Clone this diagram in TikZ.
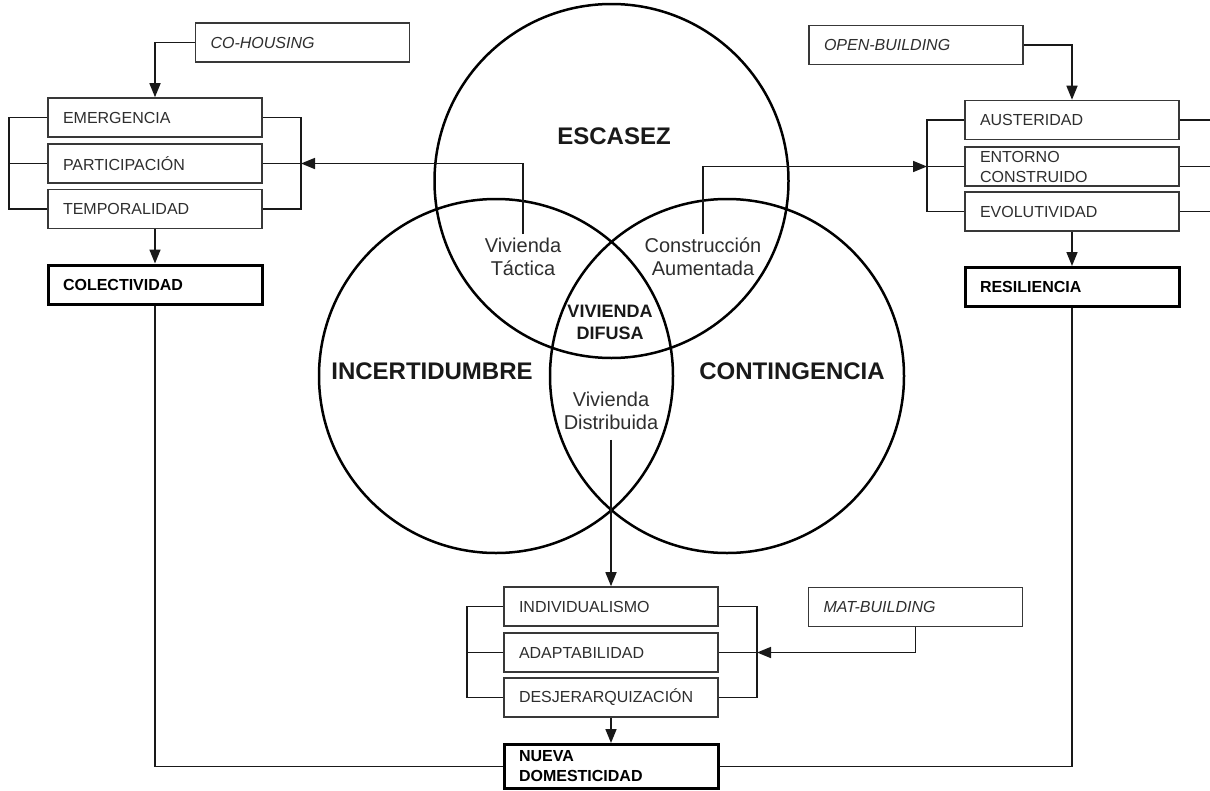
\documentclass[tikz,border=0pt]{standalone}
\usepackage{fontspec}
\setmainfont{Liberation Sans}
\usetikzlibrary{arrows.meta}
\definecolor{txtgray}{HTML}{2E2E2E}
\definecolor{boxgray}{HTML}{383838}
\begin{document}
\begin{tikzpicture}[x=1pt,y=-1pt,
  box/.style={draw=boxgray, line width=1.6pt, minimum height=39pt, text width=184pt,
    inner xsep=15pt, inner ysep=2pt, align=left, font=\fontsize{16}{20}\selectfont,
    text=txtgray, fill=white},
  thickbox/.style={box, draw=black, line width=3pt, font=\bfseries\fontsize{16}{20}\selectfont, text=black},
  itbox/.style={box, font=\itshape\fontsize{16}{20}\selectfont},
  conn/.style={line width=1.6pt, draw=black!90},
  arr/.style={conn, -{Triangle[length=14pt,width=11pt]}},
  venn/.style={circle, draw=black, line width=2.5pt, minimum size=354pt, inner sep=0pt},
  big/.style={font=\bfseries\fontsize{24}{28}\selectfont, text=black!90},
  small/.style={font=\fontsize{20}{23}\selectfont, align=center, text=txtgray},
  mid/.style={font=\bfseries\fontsize{18}{22}\selectfont, align=center, text=black!90}
]
\useasboundingbox (0,0) rectangle (1210,790);
\fill[white] (0,0) rectangle (1210,790);

% Venn circles
\node[venn] (cTop) at (611.5,181) {};
\node[venn] (cLeft) at (496,376) {};
\node[venn] (cRight) at (727,376) {};

% circle labels
\node[big] (escasez) at (614,136) {ESCASEZ};
\node[big] (incert) at (432,371) {INCERTIDUMBRE};
\node[big] (conting) at (792,371) {CONTINGENCIA};
\node[small] (tactica) at (523,256.5) {Vivienda\\Táctica};
\node[small] (construccion) at (703,256.5) {Construcción\\Aumentada};
\node[mid] (difusa) at (610,322) {VIVIENDA\\DIFUSA};
\node[small] (distribuida) at (611,410.5) {Vivienda\\Distribuida};

% left group
\node[itbox] (cohousing) at (302.5,42.5) {CO-HOUSING};
\node[box] (emergencia) at (155,117.5) {EMERGENCIA};
\node[box] (participacion) at (155,163.5) {PARTICIPACIÓN};
\node[box] (temporalidad) at (155,209) {TEMPORALIDAD};
\node[thickbox] (colectividad) at (155,284.5) {COLECTIVIDAD};

% right group
\node[itbox] (openb) at (916,45) {OPEN-BUILDING};
\node[box] (austeridad) at (1072,120) {AUSTERIDAD};
\node[box] (entorno) at (1072,166.5) {ENTORNO\\CONSTRUIDO};
\node[box] (evolutividad) at (1072,211.5) {EVOLUTIVIDAD};
\node[thickbox] (resiliencia) at (1072,287) {RESILIENCIA};

% bottom group
\node[box] (individualismo) at (611,606.5) {INDIVIDUALISMO};
\node[box] (adaptabilidad) at (611,652.5) {ADAPTABILIDAD};
\node[box] (desjer) at (611,697.5) {DESJERARQUIZACIÓN};
\node[thickbox, minimum height=44pt] (nueva) at (611,766.5) {NUEVA\\DOMESTICIDAD};
\node[itbox] (matb) at (915.5,607) {MAT-BUILDING};

% bracket x positions
\coordinate (lL) at (9,0);
\coordinate (lR) at (301,0);
\coordinate (rL) at (927,0);
\coordinate (rR) at (1230,0);
\coordinate (bL) at (467,0);
\coordinate (bR) at (757,0);

% left brackets
\draw[conn] (emergencia.west) -- (emergencia.west -| lL) -- (temporalidad.west -| lL) -- (temporalidad.west);
\draw[conn] (participacion.west) -- (participacion.west -| lL);
\draw[conn] (emergencia.east) -- (emergencia.east -| lR) -- (temporalidad.east -| lR) -- (temporalidad.east);
\draw[conn] (participacion.east) -- (participacion.east -| lR);
\draw[arr] (cohousing.west) -| (emergencia.north);
\draw[arr] (temporalidad.south) -- (colectividad.north);
\draw[arr] (tactica.north) |- (participacion.east -| lR);

% right brackets
\draw[conn] (austeridad.west) -- (austeridad.west -| rL) -- (evolutividad.west -| rL) -- (evolutividad.west);
\draw[conn] (entorno.west) -- (entorno.west -| rL);
\draw[conn] (austeridad.east) -- (austeridad.east -| rR) -- (evolutividad.east -| rR) -- (evolutividad.east);
\draw[conn] (entorno.east) -- (entorno.east -| rR);
\draw[arr] (openb.east) -| (austeridad.north);
\draw[arr] (evolutividad.south) -- (resiliencia.north);
\draw[arr] (construccion.north) |- (entorno.west -| rL);

% bottom brackets
\draw[conn] (individualismo.west) -- (individualismo.west -| bL) -- (desjer.west -| bL) -- (desjer.west);
\draw[conn] (adaptabilidad.west) -- (adaptabilidad.west -| bL);
\draw[conn] (individualismo.east) -- (individualismo.east -| bR) -- (desjer.east -| bR) -- (desjer.east);
\draw[conn] (adaptabilidad.east) -- (adaptabilidad.east -| bR);
\draw[arr] (matb.south) |- (adaptabilidad.east -| bR);
\draw[arr] ([yshift=-7pt]distribuida.south) -- (individualismo.north);
\draw[arr] (desjer.south) -- (nueva.north);

% long connectors to Nueva Domesticidad
\draw[conn] (colectividad.south) |- (nueva.west);
\draw[conn] (resiliencia.south) |- (nueva.east);
\end{tikzpicture}
\end{document}
